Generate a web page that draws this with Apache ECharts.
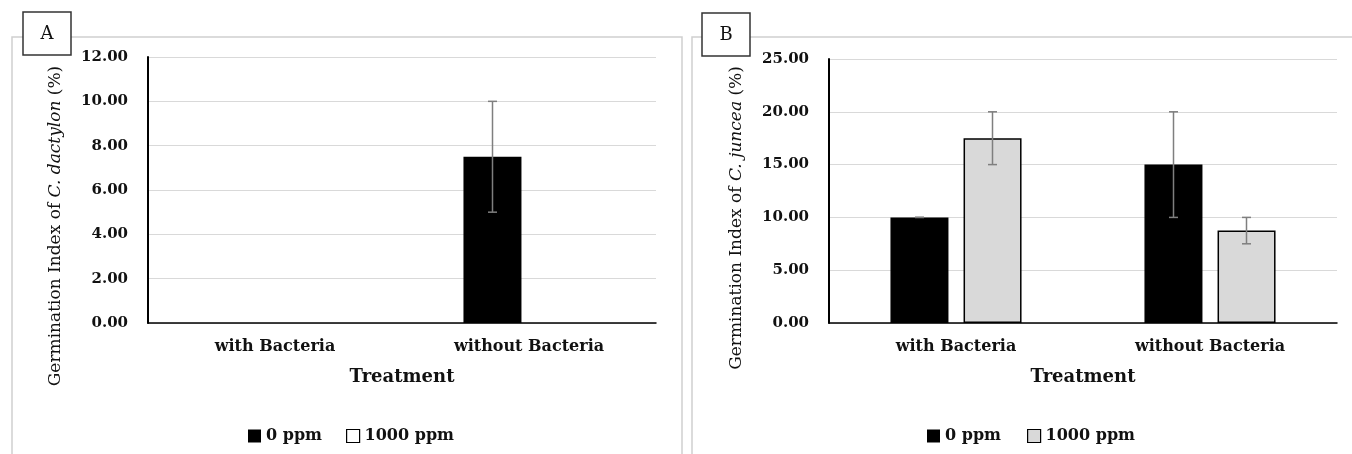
<!DOCTYPE html>
<html>
<head>
<meta charset="utf-8">
<script src="https://cdn.jsdelivr.net/npm/echarts@6/dist/echarts.min.js"></script>
<style>html,body{margin:0;padding:0;background:#fff}#c{width:1352px;height:454px}</style>
</head>
<body>
<div id="c"></div>
<script>
const categories = ['with Bacteria', 'without Bacteria'];
const seriesNames = ['0 ppm', '1000 ppm'];
// Panel A: C. dactylon
const a0ppm = [0, 7.5];
const a0ppmErr = [0, 2.5];
const a1000ppm = [0, 0];
const a1000ppmErr = [0, 0];
// Panel B: C. juncea
const b0ppm = [10, 15];
const b0ppmErr = [0, 5];
const b1000ppm = [17.5, 8.75];
const b1000ppmErr = [2.5, 1.25];
const aTicks = {min: 0, max: 12, interval: 2};
const bTicks = {min: 0, max: 25, interval: 5};

const SERIF = 'DejaVu Serif';
const chart = echarts.init(document.getElementById('c'));

function errSeries(vals, errs, gi, off) {
  return {
    type: 'custom', xAxisIndex: gi, yAxisIndex: gi, z: 5, silent: true,
    data: vals.map((v, i) => [i, v, errs[i]]),
    renderItem: function (params, api) {
      const x = api.value(0), y = api.value(1), e = api.value(2);
      if (y <= 0) return null;
      const t = api.coord([x, y + e]);
      const b = api.coord([x, y - e]);
      const cx = t[0] + off;
      const st = {stroke: '#7f7f7f', lineWidth: 1.5};
      return {type: 'group', children: [
        {type: 'line', shape: {x1: cx, y1: t[1], x2: cx, y2: b[1]}, style: st},
        {type: 'line', shape: {x1: cx - 4.5, y1: t[1], x2: cx + 4.5, y2: t[1]}, style: st},
        {type: 'line', shape: {x1: cx - 4.5, y1: b[1], x2: cx + 4.5, y2: b[1]}, style: st}
      ]};
    }
  };
}

function xAx(gi) {
  return {
    type: 'category', gridIndex: gi, data: categories,
    axisLine: {lineStyle: {color: '#000', width: 1.5}},
    axisTick: {show: false},
    axisLabel: {fontFamily: SERIF, fontWeight: 'bold', fontSize: 16, color: '#111', margin: 16},
    name: 'Treatment', nameLocation: 'middle', nameGap: 45,
    nameTextStyle: {fontFamily: SERIF, fontWeight: 'bold', fontSize: 18, color: '#111'}
  };
}
function yAx(gi, t) {
  return {
    type: 'value', gridIndex: gi, min: t.min, max: t.max, interval: t.interval,
    axisLine: {show: true, lineStyle: {color: '#000', width: 2}},
    axisTick: {show: false},
    splitLine: {lineStyle: {color: '#d9d9d9', width: 1}},
    axisLabel: {fontFamily: SERIF, fontWeight: 'bold', fontSize: 15, color: '#111', margin: 20,
      formatter: v => v.toFixed(2)}
  };
}
function bar(name, vals, gi, color, bw) {
  return {
    type: 'bar', name: name, xAxisIndex: gi, yAxisIndex: gi, data: vals,
    barWidth: 58, barGap: '26%',
    itemStyle: {color: color, borderColor: '#000', borderWidth: bw}
  };
}
const legTxt = {fontFamily: SERIF, fontWeight: 'bold', fontSize: 16, color: '#111'};

function yTitle(x, y, species) {
  return {
    type: 'text', x: x, y: y, rotation: Math.PI / 2,
    style: {
      text: '{n|Germination Index of }{i|' + species + '}{n| (%)}',
      align: 'center', verticalAlign: 'middle',
      rich: {
        n: {fontFamily: SERIF, fontSize: 17, fill: '#111'},
        i: {fontFamily: SERIF, fontSize: 17, fontStyle: 'italic', fill: '#111'}
      }
    }
  };
}
function labelBox(x, y, letter) {
  return [
    {type: 'rect', shape: {x: x, y: y, width: 48, height: 43}, style: {fill: '#fff', stroke: '#333', lineWidth: 1.5}, z: 10},
    {type: 'text', x: x + 24, y: y + 22, z: 11, style: {text: letter, fontFamily: SERIF, fontSize: 18, fill: '#111', align: 'center', verticalAlign: 'middle'}}
  ];
}

chart.setOption({
  animation: false,
  backgroundColor: '#fff',
  grid: [
    {left: 148, right: 1352 - 656, top: 57, bottom: 454 - 323},
    {left: 829, right: 1352 - 1337, top: 59, bottom: 454 - 323}
  ],
  xAxis: [xAx(0), xAx(1)],
  yAxis: [yAx(0, aTicks), yAx(1, bTicks)],
  legend: [
    {left: 243, top: 423, itemWidth: 13, itemHeight: 13, itemGap: 24, textStyle: legTxt, icon: 'rect',
      data: [{name: seriesNames[0], itemStyle: {color: '#000', borderColor: '#000'}},
             {name: seriesNames[1], itemStyle: {color: '#fff', borderColor: '#000', borderWidth: 1.2}}]},
    {left: 922, top: 423, itemWidth: 13, itemHeight: 13, itemGap: 26, textStyle: legTxt, icon: 'rect',
      data: [{name: seriesNames[0], itemStyle: {color: '#000', borderColor: '#000'}},
             {name: seriesNames[1], itemStyle: {color: '#d9d9d9', borderColor: '#000', borderWidth: 1.2}}]}
  ],
  series: [
    bar(seriesNames[0], a0ppm, 0, '#000', 0),
    bar(seriesNames[1], a1000ppm, 0, '#fff', 0),
    bar(seriesNames[0], b0ppm, 1, '#000', 1.5),
    bar(seriesNames[1], b1000ppm, 1, '#d9d9d9', 1.5),
    errSeries(a0ppm, a0ppmErr, 0, -36.5),
    errSeries(a1000ppm, a1000ppmErr, 0, 36.5),
    errSeries(b0ppm, b0ppmErr, 1, -36.5),
    errSeries(b1000ppm, b1000ppmErr, 1, 36.5)
  ],
  graphic: [
    {type: 'rect', shape: {x: 12, y: 37, width: 670, height: 440}, style: {fill: 'none', stroke: '#d0d0d0', lineWidth: 1.5}, z: 0},
    {type: 'rect', shape: {x: 692, y: 37, width: 700, height: 440}, style: {fill: 'none', stroke: '#d0d0d0', lineWidth: 1.5}, z: 0},
    ...labelBox(23, 12, 'A'),
    ...labelBox(702, 13, 'B'),
    yTitle(56, 226, 'C. dactylon'),
    yTitle(737, 218, 'C. juncea')
  ]
});
</script>
</body>
</html>
